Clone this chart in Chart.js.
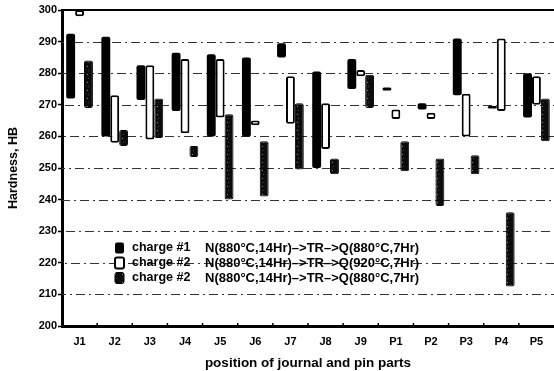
<!DOCTYPE html>
<html lang="en">
<head>
    <meta charset="UTF-8">
    <title>Hardness by position</title>
    <style>
        body {
            margin: 0;
            background-color: white;
        }
        .wrap {
            width: 554px;
            height: 371px;
            position: relative;
        }
    </style>
</head>
<body>
    <div class="wrap">
        <canvas id="hardChart" width="554" height="371"></canvas>
    </div>

    <script src="https://cdn.jsdelivr.net/npm/chart.js"></script>
    <script>
        const categories = ['J1', 'J2', 'J3', 'J4', 'J5', 'J6', 'J7', 'J8', 'J9', 'P1', 'P2', 'P3', 'P4', 'P5'];

        // charge #1, N(880C,14Hr)->TR->Q(880C,7Hr)
        const charge1Low  = [272, 260, 271.5, 268, 260, 260, 285, 250, 275, 274.5, 268.5, 273, 268.8, 266];
        const charge1High = [292.5, 291.5, 282.5, 286.5, 286, 285, 289.5, 280.5, 284.5, 275.5, 270.5, 291, 269.6, 280];

        // charge #2, Q at 920C
        const charge2aLow  = [298, 258, 259, 261, 266, 263.5, 264, 256, 279, 265.5, 265.5, 260, 268, 270];
        const charge2aHigh = [300, 273, 282.5, 284.5, 284.5, 265, 279, 270.5, 281, 268.5, 267.5, 273.5, 291, 279];

        // charge #2, Q at 880C
        const charge2bLow  = [269, 257, 259.5, 253.5, 240, 241, 249.5, 248, 269, 249, 238, 248, 212.5, 258.5];
        const charge2bHigh = [284, 262, 272, 257, 267, 258.5, 270.5, 253, 279.5, 258.5, 253, 254, 236, 272];

        const yTicks = [200, 210, 220, 230, 240, 250, 260, 270, 280, 290, 300];

        const legendNames = ['charge #1', 'charge #2', 'charge #2'];
        const legendText = [
            'N(880\u00b0C,14Hr)\u2013>TR\u2013>Q(880\u00b0C,7Hr)',
            'N(880\u00b0C,14Hr)\u2013>TR\u2013>Q(920\u00b0C,7Hr)',
            'N(880\u00b0C,14Hr)\u2013>TR\u2013>Q(880\u00b0C,7Hr)'
        ];

        const FONT = "'Liberation Sans', Arial, sans-serif";

        function pairs(lo, hi) {
            return lo.map((v, i) => [v, hi[i]]);
        }

        // almost black fill with a few light specks for the third series
        function makeSpeckle() {
            const c = document.createElement('canvas');
            c.width = 7;
            c.height = 8;
            const g = c.getContext('2d');
            g.fillStyle = '#0c0c0c';
            g.fillRect(0, 0, 7, 8);
            g.fillStyle = '#8a8a8a';
            g.fillRect(3, 2, 1, 1);
            g.fillStyle = '#444';
            g.fillRect(4, 6, 1, 1);
            return g.createPattern(c, 'repeat');
        }
        const speckle = makeSpeckle();

        // dash-dot grid lines, drawn behind the bars
        const dashGrid = {
            id: 'dashGrid',
            beforeDatasetsDraw(chart) {
                const ctx = chart.ctx;
                const a = chart.chartArea;
                const ys = chart.scales.y;
                ctx.save();
                ctx.strokeStyle = '#333';
                ctx.lineWidth = 1;
                ctx.setLineDash([9, 4, 2, 4]);
                yTicks.forEach((v, i) => {
                    if (v === 200 || v === 300) return;
                    const py = Math.round(ys.getPixelForValue(v)) + 0.5;
                    ctx.lineDashOffset = i * 5;
                    ctx.beginPath();
                    ctx.moveTo(a.left, py);
                    ctx.lineTo(a.right, py);
                    ctx.stroke();
                });
                ctx.restore();
            }
        };

        const frameAndLegend = {
            id: 'frameAndLegend',
            afterDraw(chart) {
                const ctx = chart.ctx;
                const a = chart.chartArea;
                ctx.save();
                // top frame line
                ctx.strokeStyle = '#000';
                ctx.lineWidth = 2;
                ctx.beginPath();
                ctx.moveTo(a.left, a.top);
                ctx.lineTo(a.right, a.top);
                ctx.stroke();

                // small ticks on the x axis between categories
                const xs = chart.scales.x;
                ctx.lineWidth = 1.5;
                for (let i = 1; i < categories.length; i++) {
                    const px = (xs.getPixelForValue(i - 1) + xs.getPixelForValue(i)) / 2;
                    ctx.beginPath();
                    ctx.moveTo(px, a.bottom);
                    ctx.lineTo(px, a.bottom - 3);
                    ctx.stroke();
                }

                // legend inside the plot
                const sets = chart.data.datasets;
                const ys = chart.scales.y;
                const x0 = 115;
                legendNames.forEach((name, i) => {
                    const cy = ys.getPixelForValue(225) + 1 + i * 15;
                    const ds = sets[i];
                    ctx.beginPath();
                    ctx.roundRect(x0, cy - 5.5, 9, 11, 2);
                    ctx.fillStyle = ds.backgroundColor;
                    ctx.fill();
                    ctx.lineWidth = ds.borderWidth;
                    ctx.strokeStyle = '#000';
                    if (ds.borderWidth) ctx.stroke();
                    ctx.fillStyle = '#000';
                    ctx.font = 'bold 12.5px ' + FONT;
                    ctx.textBaseline = 'middle';
                    ctx.textAlign = 'left';
                    ctx.fillText(name, x0 + 17, cy);
                    ctx.font = 'bold 13px ' + FONT;
                    ctx.fillText(legendText[i], 205, cy);
                });
                ctx.restore();
            }
        };

        const ctx = document.getElementById('hardChart').getContext('2d');
        const hardChart = new Chart(ctx, {
            type: 'bar',
            data: {
                labels: categories,
                datasets: [{
                    label: legendNames[0],
                    data: pairs(charge1Low, charge1High),
                    backgroundColor: '#000',
                    borderColor: '#000',
                    borderWidth: 0,
                    borderRadius: 2,
                    borderSkipped: false
                }, {
                    label: legendNames[1],
                    data: pairs(charge2aLow, charge2aHigh),
                    backgroundColor: '#fff',
                    borderColor: '#000',
                    borderWidth: 2,
                    borderRadius: 2,
                    borderSkipped: false
                }, {
                    label: legendNames[2],
                    data: pairs(charge2bLow, charge2bHigh),
                    backgroundColor: speckle,
                    borderColor: '#000',
                    borderWidth: 1,
                    borderRadius: 2,
                    borderSkipped: false
                }]
            },
            options: {
                responsive: false,
                animation: false,
                layout: {
                    padding: { top: 10, right: 0, left: 0, bottom: 0 }
                },
                datasets: {
                    bar: {
                        categoryPercentage: 0.76,
                        barPercentage: 1.0,
                        grouped: true
                    }
                },
                scales: {
                    x: {
                        grid: { display: false },
                        border: { display: true, color: '#000', width: 3 },
                        ticks: {
                            color: '#000',
                            font: { family: FONT, size: 11, weight: 'bold' },
                            padding: 1,
                            maxRotation: 0,
                            autoSkip: false
                        },
                        title: {
                            display: true,
                            text: 'position of journal and pin parts',
                            color: '#000',
                            font: { family: FONT, size: 13.5, weight: 'bold' },
                            padding: { top: 8, bottom: 0 }
                        },
                        afterFit: scale => { scale.height = 45; }
                    },
                    y: {
                        min: 200,
                        max: 300,
                        afterBuildTicks: scale => {
                            scale.ticks = yTicks.map(v => ({ value: v }));
                        },
                        grid: {
                            drawOnChartArea: false,
                            drawTicks: true,
                            tickLength: 4,
                            tickColor: '#000',
                            tickWidth: 1.5
                        },
                        border: { display: true, color: '#000', width: 3 },
                        ticks: {
                            color: '#000',
                            font: { family: FONT, size: 11, weight: 'bold' },
                            padding: 1
                        },
                        title: {
                            display: true,
                            text: 'Hardness, HB',
                            color: '#000',
                            font: { family: FONT, size: 12.5, weight: 'bold' },
                            padding: { top: 6, bottom: 4 }
                        },
                        afterFit: scale => { scale.width = 62; }
                    }
                },
                plugins: {
                    legend: { display: false },
                    tooltip: { enabled: false },
                    title: { display: false }
                }
            },
            plugins: [dashGrid, frameAndLegend]
        });
    </script>
</body>
</html>
